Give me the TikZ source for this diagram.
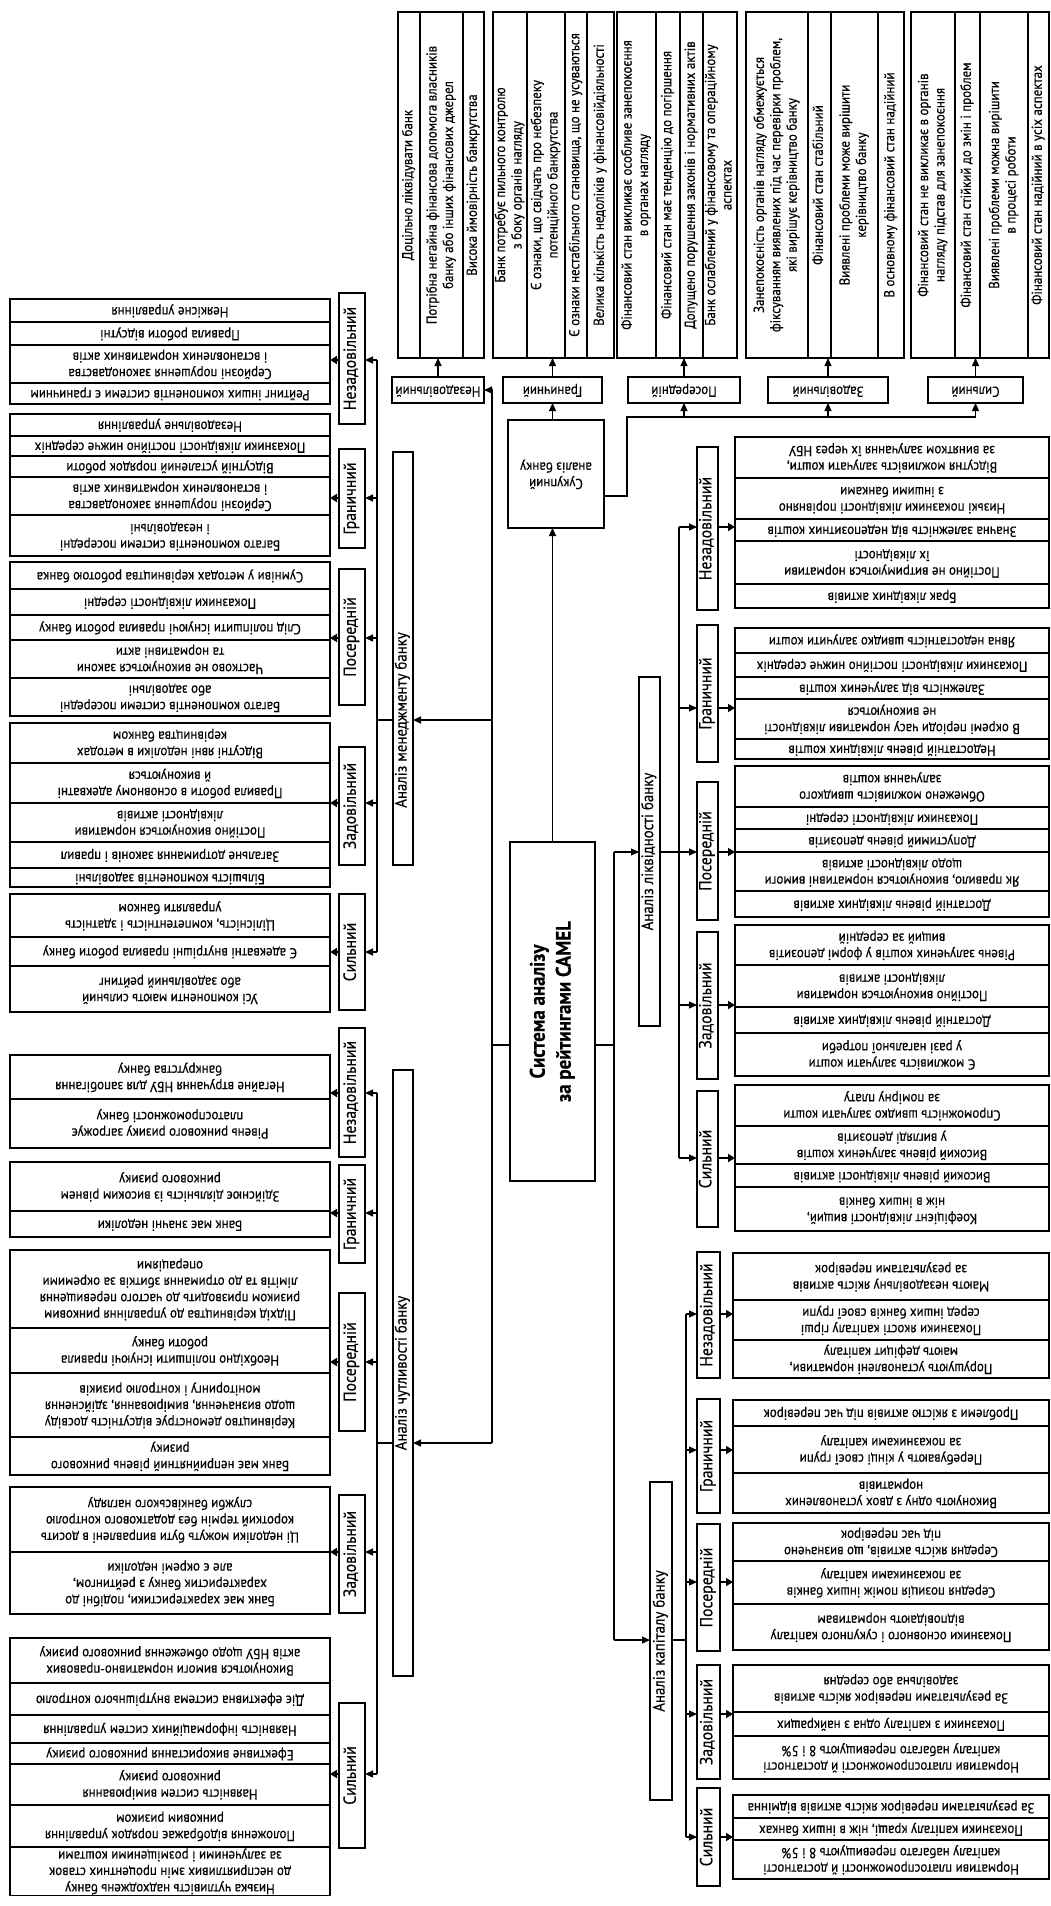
\documentclass[tikz,border=0pt]{standalone}
\usepackage{fontspec}
\setmainfont{PT Sans}[FakeStretch=0.9,FakeBold=0.35]
\usepackage{graphicx}
\usetikzlibrary{arrows.meta}
\newcommand{\fL}{\fontsize{14.4}{16.4}\selectfont}
\newcommand{\fC}{\fontsize{17.5}{19}\selectfont}
\newcommand{\fA}{\fontsize{16.5}{18}\selectfont}
\newcommand{\fR}{\fontsize{21}{26}\selectfont\bfseries}
\newcommand{\txtud}[1]{\rotatebox{180}{\begin{tabular}{@{}c@{}}#1\end{tabular}}}
\newcommand{\txtvu}[1]{\rotatebox{90}{\begin{tabular}{@{}c@{}}#1\end{tabular}}}
\newcommand{\bxx}[7][]{%
 \pgfmathsetmacro\bxcx{(#3+#5)/2}%
 \pgfmathsetmacro\bxcy{(#4+#6)/2}%
 \pgfmathsetmacro\bxww{abs(#5-#3)}%
 \pgfmathsetmacro\bxhh{abs(#6-#4)}%
 \node[#1,minimum width=\bxww pt,minimum height=\bxhh pt] (#2) at (\bxcx,\bxcy) {#7};}
\tikzset{
 lrow/.style={draw,line width=1.6pt,inner sep=0pt,outer sep=0pt,font=\fL},
 catb/.style={draw,line width=2.8pt,inner sep=0pt,outer sep=0pt,font=\fC},
 lab/.style={draw,line width=2.8pt,inner sep=0pt,outer sep=0pt,font=\fL},
 anab/.style={draw,line width=2.8pt,inner sep=0pt,outer sep=0pt,font=\fA},
 anat/.style={inner sep=0pt,outer sep=0pt,font=\fA},
 rootb/.style={draw,line width=2.8pt,inner sep=0pt,outer sep=0pt,font=\fR},
 conn/.style={line width=1.1pt},
 arr/.style={line width=1.1pt,-{Triangle[length=8pt,width=7pt]}},
 tarr/.style={line width=2pt,-{Triangle[length=7pt,width=8pt]}}
}
\begin{document}
\begin{tikzpicture}[x=1pt,y=-1pt]
\fill[white] (0,0) rectangle (1051,1906);
\useasboundingbox (0,0) rectangle (1051,1906);

% ===== ROOT =====
\bxx[rootb]{root}{510}{842}{595}{1181}{\txtvu{Система аналізу\\за рейтингами CAMEL}}

% ===== TOP: overall analysis =====
\bxx[lab]{su}{508}{420}{604}{528}{\txtud{Сукупний\\аналіз банку}}
\bxx[lab]{tl1}{392}{377}{484}{403}{\txtud{Незадовільний}}
\bxx[lab]{tl2}{503}{377}{602}{403}{\txtud{Граничний}}
\bxx[lab]{tl3}{628}{377}{740}{403}{\txtud{Посередній}}
\bxx[lab]{tl4}{768}{377}{888}{403}{\txtud{Задовільний}}
\bxx[lab]{tl5}{928}{377}{1023}{403}{\txtud{Сильний}}

\bxx[lrow]{o11}{398}{12}{420}{358}{\txtvu{Доцільно ліквідувати банк}}
\bxx[lrow]{o12}{420}{12}{463}{358}{\txtvu{Потрібна негайна фінансова допомога власників\\банку або інших фінансових джерел}}
\bxx[lrow]{o13}{463}{12}{484}{358}{\txtvu{Висока ймовірність банкрутства}}

\bxx[lrow]{o21}{493}{12}{527}{358}{\txtvu{Банк потребує пильного контролю\\з боку органів нагляду}}
\bxx[lrow]{o22}{527}{12}{565}{358}{\txtvu{Є ознаки, що свідчать про небезпеку\\потенційного банкрутства}}
\bxx[lrow]{o23}{565}{12}{587}{358}{\txtvu{Є ознаки нестабільного становища, що не усуваються}}
\bxx[lrow]{o24}{587}{12}{614}{358}{\txtvu{Велика кількість недоліків у фінансовійдіяльності}}

\bxx[lrow]{o31}{617}{12}{656}{358}{\txtvu{Фінансовий стан викликає особливе занепокоєння\\в органах нагляду}}
\bxx[lrow]{o32}{656}{12}{680}{358}{\txtvu{Фінансовий стан має тенденцію до погіршення}}
\bxx[lrow]{o33}{680}{12}{703}{358}{\txtvu{Допущено порушення законів і нормативних актів}}
\bxx[lrow]{o34}{703}{12}{737}{358}{\txtvu{Банк ослаблений у фінансовому та операційному\\аспектах}}

\bxx[lrow]{o41}{746}{12}{808}{358}{\txtvu{Занепокоєність органів нагляду обмежується\\фіксуванням виявлених під час перевірки проблем,\\які вирішує керівництво банку}}
\bxx[lrow]{o42}{808}{12}{831}{358}{\txtvu{Фінансовий стан стабільний}}
\bxx[lrow]{o43}{831}{12}{878}{358}{\txtvu{Виявлені проблеми може вирішити\\керівництво банку}}
\bxx[lrow]{o44}{878}{12}{904}{358}{\txtvu{В основному фінансовий стан надійний}}

\bxx[lrow]{o51}{911}{12}{955}{358}{\txtvu{Фінансовий стан не викликає в органів\\нагляду підстав для занепокоєння}}
\bxx[lrow]{o52}{955}{12}{980}{358}{\txtvu{Фінансовий стан стійкий до змін і проблем}}
\bxx[lrow]{o53}{980}{12}{1028}{358}{\txtvu{Виявлені проблеми можна вирішити\\в процесі роботи}}
\bxx[lrow]{o54}{1028}{12}{1049}{358}{\txtvu{Фінансовий стан надійний в усіх аспектах}}

\draw[arr] (tl1.north) -- (tl1.north |- o12.south);
\draw[arr] (tl2.north) -- (tl2.north |- o22.south);
\draw[arr] (tl3.north) -- (tl3.north |- o33.south);
\draw[arr] (tl4.north) -- (tl4.north |- o42.south);
\draw[arr] (tl5.north) -- (tl5.north |- o52.south);

\draw[arr] (root.north) -- (root.north |- su.south);
\draw[arr] (root.north |- su.north) -- (root.north |- tl2.south);
\coordinate (b0) at (627,496);
\coordinate (b1) at (627,417);
\coordinate (b2) at (tl5.south |- b1);
\draw[conn] (su.east |- b0) -- (b0) -- (b1) -- (b2);
\draw[arr] (tl3.south |- b1) -- (tl3.south);
\draw[arr] (tl4.south |- b1) -- (tl4.south);
\draw[arr] (b2) -- (tl5.south);

% ===== ROOT CONNECTIONS =====
\coordinate (rl) at (492,1045);
\coordinate (rt) at (492,390);
\coordinate (rm) at (492,720);
\coordinate (rs) at (492,1443);
\coordinate (rr) at (614,1045);
\coordinate (rq) at (614,852);
\coordinate (rc) at (614,1640);

% ===== MANAGEMENT =====
\bxx[anab]{ma}{393}{452}{413}{865}{}
\node[anat] (malab) at (403,720) {\txtvu{Аналіз менеджменту банку}};
\bxx[lrow]{m11}{10}{299}{330}{322}{\txtud{Неякісне управління}}
\bxx[lrow]{m12}{10}{322}{330}{345}{\txtud{Правила роботи відсутні}}
\bxx[lrow]{m13}{10}{345}{330}{383}{\txtud{Серйозні порушення законодавства\\і встановлених нормативних актів}}
\bxx[lrow]{m14}{10}{383}{330}{404}{\txtud{Рейтинг інших компонентів системи є граничним}}
\bxx[catb]{mc1}{339}{293}{365}{424}{\txtvu{Незадовільний}}

\bxx[lrow]{m21}{10}{414}{330}{436}{\txtud{Незадовільне управління}}
\bxx[lrow]{m22}{10}{436}{330}{456}{\txtud{Показники ліквідності постійно нижче середніх}}
\bxx[lrow]{m23}{10}{456}{330}{477}{\txtud{Відсутній усталений порядок роботи}}
\bxx[lrow]{m24}{10}{477}{330}{515}{\txtud{Серйозні порушення законодавства\\і встановлених нормативних актів}}
\bxx[lrow]{m25}{10}{515}{330}{556}{\txtud{Багато компонентів системи посередні\\і незадовільні}}
\bxx[catb]{mc2}{339}{449}{365}{548}{\txtvu{Граничний}}

\bxx[lrow]{m31}{10}{562}{330}{589}{\txtud{Сумніви у методах керівництва роботою банка}}
\bxx[lrow]{m32}{10}{589}{330}{615}{\txtud{Показники ліквідності середні}}
\bxx[lrow]{m33}{10}{615}{330}{640}{\txtud{Слід поліпшити існуючі правила роботи банку}}
\bxx[lrow]{m34}{10}{640}{330}{678}{\txtud{Частково не виконуються закони\\та нормативні акти}}
\bxx[lrow]{m35}{10}{678}{330}{716}{\txtud{Багато компонентів системи посередні\\або задовільні}}
\bxx[catb]{mc3}{339}{569}{365}{705}{\txtvu{Посередній}}

\bxx[lrow]{m41}{10}{723}{330}{763}{\txtud{Відсутні явні недоліки в методах\\керівництва банком}}
\bxx[lrow]{m42}{10}{763}{330}{803}{\txtud{Правила роботи в основному адекватні\\й виконуються}}
\bxx[lrow]{m43}{10}{803}{330}{842}{\txtud{Постійно виконуються нормативи\\ліквідності активів}}
\bxx[lrow]{m44}{10}{842}{330}{868}{\txtud{Загальне дотримання законів і правил}}
\bxx[lrow]{m45}{10}{868}{330}{887}{\txtud{Більшість компонентів задовільні}}
\bxx[catb]{mc4}{339}{747}{365}{865}{\txtvu{Задовільний}}

\bxx[lrow]{m51}{10}{894}{330}{937}{\txtud{Цілісність, компетентність і здатність\\управляти банком}}
\bxx[lrow]{m52}{10}{937}{330}{966}{\txtud{Є адекватні внутрішні правила роботи банку}}
\bxx[lrow]{m53}{10}{966}{330}{1012}{\txtud{Усі компоненти мають сильний\\або задовільний рейтинг}}
\bxx[catb]{mc5}{339}{894}{365}{1010}{\txtvu{Сильний}}

\coordinate (mt1) at (377,360);
\coordinate (mt2) at (377,498);
\coordinate (mt3) at (377,638);
\coordinate (mt4) at (377,803);
\coordinate (mt5) at (377,952);
\coordinate (mj) at (377,720);
\draw[conn] (mt1) -- (mt5);
\draw[conn] (mj -| ma.west) -- (mj);
\draw[arr] (mt1) -- (mt1 -| mc1.east);
\draw[arr] (mt2) -- (mt2 -| mc2.east);
\draw[arr] (mt3) -- (mt3 -| mc3.east);
\draw[arr] (mt4) -- (mt4 -| mc4.east);
\draw[arr] (mt5) -- (mt5 -| mc5.east);
\draw[tarr] (mt1 -| mc1.west) -- (mt1 -| m11.east);
\draw[tarr] (mt2 -| mc2.west) -- (mt2 -| m21.east);
\draw[tarr] (mt3 -| mc3.west) -- (mt3 -| m31.east);
\draw[tarr] (mt4 -| mc4.west) -- (mt4 -| m41.east);
\draw[tarr] (mt5 -| mc5.west) -- (mt5 -| m51.east);

% ===== SENSITIVITY =====
\bxx[anab]{sa}{393}{1070}{413}{1676}{\txtvu{Аналіз чутливості банку}}
\bxx[lrow]{s11}{10}{1055}{330}{1099}{\txtud{Негайне втручання НБУ для запобігання\\банкрутства банку}}
\bxx[lrow]{s12}{10}{1099}{330}{1148}{\txtud{Рівень ринкового ризику загрожує\\платоспроможності банку}}
\bxx[catb]{sc1}{339}{1028}{365}{1157}{\txtvu{Незадовільний}}

\bxx[lrow]{s21}{10}{1162}{330}{1211}{\txtud{Здійснює діяльність із високим рівнем\\ринкового ризику}}
\bxx[lrow]{s22}{10}{1211}{330}{1237}{\txtud{Банк має значні недоліки}}
\bxx[catb]{sc2}{339}{1165}{365}{1263}{\txtvu{Граничний}}

\bxx[lrow]{s31}{10}{1250}{330}{1328}{\txtud{Підхід керівництва до управління ринковим\\ризиком призводить до частого перевищення\\лімітів та до отримання збитків за окремими\\операціями}}
\bxx[lrow]{s32}{10}{1328}{330}{1373}{\txtud{Необхідно поліпшити існуючі правила\\роботи банку}}
\bxx[lrow]{s33}{10}{1373}{330}{1437}{\txtud{Керівництво демонструє відсутність досвіду\\щодо визначення, вимірювання, здійснення\\моніторингу і контролю ризиків}}
\bxx[lrow]{s34}{10}{1437}{330}{1475}{\txtud{Банк має неприйнятний рівень ринкового\\ризику}}
\bxx[catb]{sc3}{339}{1293}{365}{1431}{\txtvu{Посередній}}

\bxx[lrow]{s41}{10}{1487}{330}{1552}{\txtud{Ці недоліки можуть бути виправлені в досить\\короткий термін без додаткового контролю\\служби банківського нагляду}}
\bxx[lrow]{s42}{10}{1552}{330}{1614}{\txtud{Банк має характеристики, подібні до\\характеристик банку з рейтингом,\\але є окремі недоліки}}
\bxx[catb]{sc4}{339}{1495}{365}{1613}{\txtvu{Задовільний}}

\bxx[lrow]{s51}{10}{1638}{330}{1683}{\txtud{Виконуються вимоги нормативно-правових\\актів НБУ щодо обмеження ринкового ризику}}
\bxx[lrow]{s52}{10}{1683}{330}{1715}{\txtud{Діє ефективна система внутрішнього контролю}}
\bxx[lrow]{s53}{10}{1715}{330}{1743}{\txtud{Наявність інформаційних систем управління}}
\bxx[lrow]{s54}{10}{1743}{330}{1764}{\txtud{Ефективне використання ринкового ризику}}
\bxx[lrow]{s55}{10}{1764}{330}{1805}{\txtud{Наявність систем вимірювання\\ринкового ризику}}
\bxx[lrow]{s56}{10}{1805}{330}{1847}{\txtud{Положення відображає порядок управління\\ринковим ризиком}}
\bxx[lrow]{s57}{10}{1847}{330}{1895}{\txtud{Низька чутливість надходжень банку\\до несприятливих змін процентних ставок\\за залученими і розміщеними коштами}}
\bxx[catb]{sc5}{339}{1703}{365}{1848}{\txtvu{Сильний}}

\coordinate (st1) at (377,1093);
\coordinate (st2) at (377,1213);
\coordinate (st3) at (377,1362);
\coordinate (st4) at (377,1552);
\coordinate (st5) at (377,1774);
\coordinate (sj) at (377,1443);
\draw[conn] (st1) -- (st5);
\draw[conn] (sj -| sa.west) -- (sj);
\draw[arr] (st1) -- (st1 -| sc1.east);
\draw[arr] (st2) -- (st2 -| sc2.east);
\draw[arr] (st3) -- (st3 -| sc3.east);
\draw[arr] (st4) -- (st4 -| sc4.east);
\draw[arr] (st5) -- (st5 -| sc5.east);
\draw[tarr] (st1 -| sc1.west) -- (st1 -| s11.east);
\draw[tarr] (st2 -| sc2.west) -- (st2 -| s21.east);
\draw[tarr] (st3 -| sc3.west) -- (st3 -| s31.east);
\draw[tarr] (st4 -| sc4.west) -- (st4 -| s41.east);
\draw[tarr] (st5 -| sc5.west) -- (st5 -| s51.east);

% ===== LIQUIDITY =====
\bxx[anab]{la}{639}{677}{660}{1026}{\txtvu{Аналіз ліквідності банку}}
\bxx[lrow]{l11}{735}{437}{1049}{478}{\txtud{Відсутня можливість залучати кошти,\\за винятком залучання їх через НБУ}}
\bxx[lrow]{l12}{735}{478}{1049}{519}{\txtud{Низькі показники ліквідності порівняно\\з іншими банками}}
\bxx[lrow]{l13}{735}{519}{1049}{541}{\txtud{Значна залежність від недепозитних коштів}}
\bxx[lrow]{l14}{735}{541}{1049}{584}{\txtud{Постійно не витримуються нормативи\\їх ліквідності}}
\bxx[lrow]{l15}{735}{584}{1049}{608}{\txtud{Брак ліквідних активів}}
\bxx[catb]{lc1}{697}{447}{718}{610}{\txtvu{Незадовільний}}

\bxx[lrow]{l21}{735}{628}{1049}{653}{\txtud{Явна недостатність швидко залучити кошти}}
\bxx[lrow]{l22}{735}{653}{1049}{677}{\txtud{Показники ліквідності постійно нижче середніх}}
\bxx[lrow]{l23}{735}{677}{1049}{699}{\txtud{Залежність від залучених коштів}}
\bxx[lrow]{l24}{735}{699}{1049}{739}{\txtud{В окремі періоди часу нормативи ліквідності\\не виконуються}}
\bxx[lrow]{l25}{735}{739}{1049}{759}{\txtud{Недостатній рівень ліквідних коштів}}
\bxx[catb]{lc2}{697}{625}{718}{762}{\txtvu{Граничний}}

\bxx[lrow]{l31}{735}{766}{1049}{807}{\txtud{Обмежено можливість швидкого\\залучання коштів}}
\bxx[lrow]{l32}{735}{807}{1049}{829}{\txtud{Показники ліквідності середні}}
\bxx[lrow]{l33}{735}{829}{1049}{852}{\txtud{Допустимий рівень депозитів}}
\bxx[lrow]{l34}{735}{852}{1049}{891}{\txtud{Як правило, виконуються нормативні вимоги\\щодо ліквідності активів}}
\bxx[lrow]{l35}{735}{891}{1049}{917}{\txtud{Достатній рівень ліквідних активів}}
\bxx[catb]{lc3}{697}{782}{718}{920}{\txtvu{Посередній}}

\bxx[lrow]{l41}{735}{925}{1049}{965}{\txtud{Рівень залучених коштів у формі депозитів\\вищий за середній}}
\bxx[lrow]{l42}{735}{965}{1049}{1007}{\txtud{Постійно виконуються нормативи\\ліквідності активів}}
\bxx[lrow]{l43}{735}{1007}{1049}{1033}{\txtud{Достатній рівень ліквідних активів}}
\bxx[lrow]{l44}{735}{1033}{1049}{1076}{\txtud{Є можливість залучати кошти\\у разі нагальної потреби}}
\bxx[catb]{lc4}{697}{932}{718}{1079}{\txtvu{Задовільний}}

\bxx[lrow]{l51}{735}{1085}{1049}{1126}{\txtud{Спроможність швидко залучати кошти\\за помірну плату}}
\bxx[lrow]{l52}{735}{1126}{1049}{1164}{\txtud{Високий рівень залучених коштів\\у вигляді депозитів}}
\bxx[lrow]{l53}{735}{1164}{1049}{1187}{\txtud{Високий рівень ліквідності активів}}
\bxx[lrow]{l54}{735}{1187}{1049}{1231}{\txtud{Коефіцієнт ліквідності вищий,\\ніж в інших банків}}
\bxx[catb]{lc5}{697}{1091}{718}{1227}{\txtvu{Сильний}}

\coordinate (lt1) at (679,527);
\coordinate (lt2) at (679,708);
\coordinate (lt3) at (679,852);
\coordinate (lt4) at (679,1005);
\coordinate (lt5) at (679,1158);
\draw[conn] (lt1) -- (lt5);
\draw[conn] (lt3 -| la.east) -- (lt3);
\draw[arr] (lt1) -- (lt1 -| lc1.west);
\draw[arr] (lt2) -- (lt2 -| lc2.west);
\draw[arr] (lt3) -- (lt3 -| lc3.west);
\draw[arr] (lt4) -- (lt4 -| lc4.west);
\draw[arr] (lt5) -- (lt5 -| lc5.west);
\draw[tarr] (lt1 -| lc1.east) -- (lt1 -| l11.west);
\draw[tarr] (lt2 -| lc2.east) -- (lt2 -| l21.west);
\draw[tarr] (lt3 -| lc3.east) -- (lt3 -| l31.west);
\draw[tarr] (lt4 -| lc4.east) -- (lt4 -| l41.west);
\draw[tarr] (lt5 -| lc5.east) -- (lt5 -| l51.west);

% ===== CAPITAL =====
\bxx[anab]{ca}{650}{1482}{672}{1800}{\txtvu{Аналіз капіталу банку}}
\bxx[lrow]{c11}{733}{1253}{1049}{1300}{\txtud{Мають незадовільну якість активів\\за результатами перевірок}}
\bxx[lrow]{c12}{733}{1300}{1049}{1340}{\txtud{Показники якості капіталу гірші\\серед інших банків своєї групи}}
\bxx[lrow]{c13}{733}{1340}{1049}{1378}{\txtud{Порушують установлені нормативи,\\мають дефіцит капіталу}}
\bxx[catb]{cc1}{697}{1252}{720}{1378}{\txtvu{Незадовільний}}

\bxx[lrow]{c21}{733}{1400}{1049}{1426}{\txtud{Проблеми з якістю активів під час перевірок}}
\bxx[lrow]{c22}{733}{1426}{1049}{1473}{\txtud{Перебувають у кінці своєї групи\\за показниками капіталу}}
\bxx[lrow]{c23}{733}{1473}{1049}{1513}{\txtud{Виконують одну з двох установлених\\нормативів}}
\bxx[catb]{cc2}{697}{1399}{720}{1513}{\txtvu{Граничний}}

\bxx[lrow]{c31}{733}{1523}{1049}{1561}{\txtud{Середня якість активів, що визначено\\під час перевірок}}
\bxx[lrow]{c32}{733}{1561}{1049}{1604}{\txtud{Середня позиція поміж інших банків\\за показниками капіталу}}
\bxx[lrow]{c33}{733}{1604}{1049}{1650}{\txtud{Показники основного і сукупного капіталу\\відповідають нормативам}}
\bxx[catb]{cc3}{697}{1524}{720}{1651}{\txtvu{Посередній}}

\bxx[lrow]{c41}{733}{1665}{1049}{1712}{\txtud{За результатами перевірок якість активів\\задовільна або середня}}
\bxx[lrow]{c42}{733}{1712}{1049}{1736}{\txtud{Показники з капіталу одна з найкращих}}
\bxx[lrow]{c43}{733}{1736}{1049}{1779}{\txtud{Нормативи платоспроможності й достатності\\капіталу набагато перевищують 8 і 5\%}}
\bxx[catb]{cc4}{697}{1665}{720}{1779}{\txtvu{Задовільний}}

\bxx[lrow]{c51}{733}{1795}{1049}{1818}{\txtud{За результатами перевірок якість активів відмінна}}
\bxx[lrow]{c52}{733}{1818}{1049}{1840}{\txtud{Показники капіталу кращі, ніж в інших банках}}
\bxx[lrow]{c53}{733}{1840}{1049}{1879}{\txtud{Нормативи платоспроможності й достатності\\капіталу набагато перевищують 8 і 5\%}}
\bxx[catb]{cc5}{697}{1788}{720}{1886}{\txtvu{Сильний}}

\coordinate (ct1) at (686,1314);
\coordinate (ct2) at (686,1450);
\coordinate (ct3) at (686,1582);
\coordinate (ct4) at (686,1714);
\coordinate (ct5) at (686,1837);
\coordinate (cj) at (686,1640);
\draw[conn] (ct1) -- (ct5);
\draw[conn] (cj -| ca.east) -- (cj);
\draw[arr] (ct1) -- (ct1 -| cc1.west);
\draw[arr] (ct2) -- (ct2 -| cc2.west);
\draw[arr] (ct3) -- (ct3 -| cc3.west);
\draw[arr] (ct4) -- (ct4 -| cc4.west);
\draw[arr] (ct5) -- (ct5 -| cc5.west);
\draw[tarr] (ct1 -| cc1.east) -- (ct1 -| c11.west);
\draw[tarr] (ct2 -| cc2.east) -- (ct2 -| c21.west);
\draw[tarr] (ct3 -| cc3.east) -- (ct3 -| c31.west);
\draw[tarr] (ct4 -| cc4.east) -- (ct4 -| c41.west);
\draw[tarr] (ct5 -| cc5.east) -- (ct5 -| c51.west);

% ===== ROOT BRANCHES =====
\draw[conn] (rl -| root.west) -- (rl);
\draw[conn] (rt) -- (rs);
\draw[arr] (rt) -- (tl1.east);
\draw[arr] (rm) -- (rm -| ma.east);
\draw[arr] (rs) -- (rs -| sa.east);
\draw[conn] (rr -| root.east) -- (rr);
\draw[conn] (rq) -- (rc);
\draw[arr] (rq) -- (rq -| la.west);
\draw[arr] (rc) -- (rc -| ca.west);
\end{tikzpicture}
\end{document}
